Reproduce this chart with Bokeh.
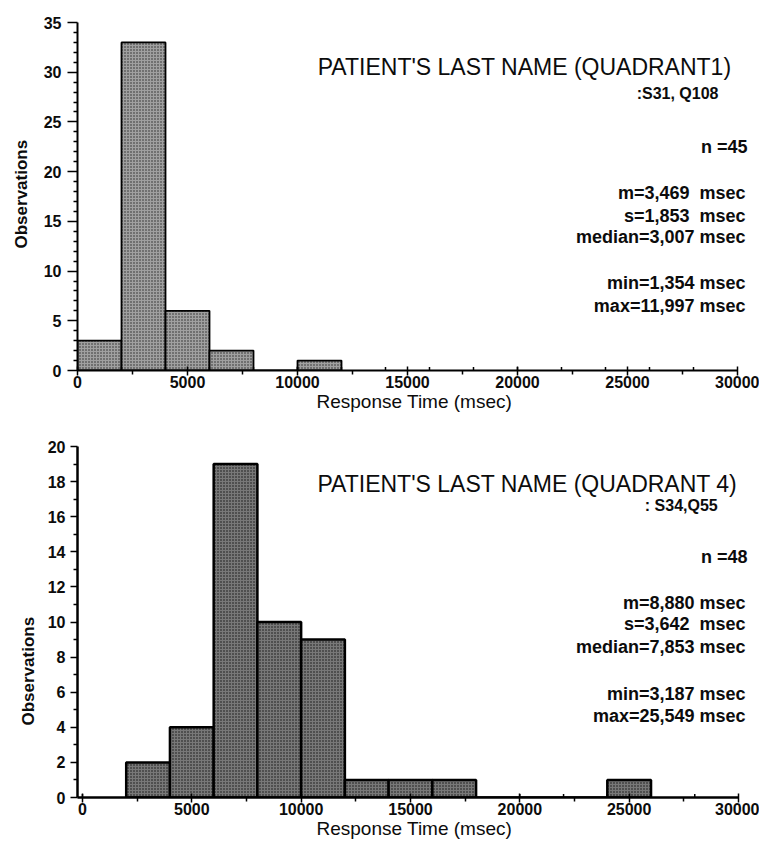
import math

from bokeh.embed import file_html
from bokeh.layouts import column
from bokeh.models import FixedTicker, Label, Title
from bokeh.plotting import figure
from bokeh.resources import INLINE

# Histogram bins (msec) and counts for each quadrant
bin_width = 2000
q1_bin_starts = [0, 2000, 4000, 6000, 8000, 10000]
q1_counts = [3, 33, 6, 2, 0, 1]
q4_bin_starts = [2000, 4000, 6000, 8000, 10000, 12000, 14000, 16000,
                 18000, 20000, 22000, 24000]
q4_counts = [2, 4, 19, 10, 9, 1, 1, 1, 0, 0, 0, 1]

# Axis ticks
x_ticks = [0, 5000, 10000, 15000, 20000, 25000, 30000]
x_minor_ticks = [2500, 7500, 12500, 17500, 22500, 27500]
bin_edges = [0, 2000, 4000, 6000, 8000, 10000, 12000, 14000, 16000,
             18000, 20000, 22000, 24000, 26000, 28000]
q1_y_ticks = [0, 5, 10, 15, 20, 25, 30, 35]
q4_y_ticks = [0, 2, 4, 6, 8, 10, 12, 14, 16, 18, 20]

# Panel texts
q1_title = "PATIENT'S LAST NAME (QUADRANT1)"
q1_ref = ":S31, Q108"
q1_stats = ["n =45", "m=3,469\u00a0 msec", "s=1,853\u00a0 msec",
            "median=3,007 msec", "min=1,354 msec", "max=11,997 msec"]
q4_title = "PATIENT'S LAST NAME (QUADRANT 4)"
q4_ref = ": S34,Q55"
q4_stats = ["n =48", "m=8,880 msec", "s=3,642\u00a0 msec",
            "median=7,853 msec", "min=3,187 msec", "max=25,549 msec"]

x_label = "Response Time (msec)"
y_label = "Observations"

FONT = "Liberation Sans"
INK = "#0c0c0c"


def make_panel(height, x_range, y_end, y_ticks, starts, counts,
               borders, fill, hatch, outline_w, axis_w, ytick_out,
               ytick_standoff, title, ref, stats, text_pos, ylab_offset,
               ylab_standoff, tick_len):
    left, right, top, bottom = borders
    p = figure(width=759, height=height, x_range=x_range,
               y_range=(0, y_end), output_backend="svg",
               toolbar_location=None, min_border_left=left,
               min_border_right=right, min_border_top=top,
               min_border_bottom=bottom)
    p.outline_line_color = None
    p.grid.visible = False

    rights = [s + bin_width for s in starts]
    p.quad(left=starts, right=rights, bottom=0, top=counts,
           fill_color=fill, hatch_pattern="dot", hatch_color=hatch,
           hatch_scale=3, hatch_weight=1.4,
           line_color="black", line_width=outline_w)

    # small marks above the axis at each bin edge
    p.segment(x0=bin_edges, x1=bin_edges, y0=[0] * len(bin_edges),
              y1=[tick_len] * len(bin_edges), line_color="black",
              line_width=1.5)

    xa = p.xaxis[0]
    xa.bounds = (x_range[0], x_ticks[-1])
    xa.ticker = FixedTicker(ticks=x_ticks, minor_ticks=x_minor_ticks)
    xa.axis_line_width = axis_w
    xa.axis_line_color = "black"
    xa.major_tick_in = 4
    xa.major_tick_out = 5
    xa.major_tick_line_width = 1.5
    xa.minor_tick_in = 0
    xa.minor_tick_out = 4
    xa.minor_tick_line_width = 1.5
    xa.major_label_standoff = 0
    xa.major_label_text_font = FONT
    xa.major_label_text_font_style = "bold"
    xa.major_label_text_font_size = "16px"
    xa.major_label_text_color = INK

    ya = p.yaxis[0]
    step = y_ticks[1] - y_ticks[0]
    ya.ticker = FixedTicker(
        ticks=y_ticks,
        minor_ticks=[v for v in range(0, y_end + 1) if v % step != 0])
    ya.axis_line_width = axis_w
    ya.axis_line_color = "black"
    ya.major_tick_in = 0
    ya.major_tick_out = ytick_out
    ya.major_tick_line_width = 1.5
    ya.minor_tick_in = 0
    ya.minor_tick_out = 4
    ya.minor_tick_line_width = 1.5
    ya.major_label_standoff = ytick_standoff
    ya.major_label_text_font = FONT
    ya.major_label_text_font_style = "bold"
    ya.major_label_text_font_size = "16px"
    ya.major_label_text_color = INK

    # axis titles sit in the side panels, next to the axes
    p.add_layout(Title(text=x_label, align="left", offset=239,
                       vertical_align="top", standoff=0,
                       text_font=FONT, text_font_style="normal",
                       text_font_size="19px", text_color=INK), "below")
    p.add_layout(Title(text=y_label, align="left", offset=ylab_offset,
                       vertical_align="top", standoff=ylab_standoff,
                       text_font=FONT, text_font_style="bold",
                       text_font_size="17px", text_color=INK), "left")

    (tx, ty), (rx, ry), (sx, sys_) = text_pos
    p.add_layout(Label(x=tx, y=ty, text=title, text_align="right",
                       text_baseline="middle", text_font=FONT,
                       text_font_size="23px", text_color=INK))
    p.add_layout(Label(x=rx, y=ry, text=ref, text_align="right",
                       text_baseline="middle", text_font=FONT,
                       text_font_style="bold", text_font_size="16px",
                       text_color=INK))
    for i, (s, yv) in enumerate(zip(stats, sys_)):
        p.add_layout(Label(x=sx + (90 if i == 0 else 0), y=yv, text=s,
                           text_align="right", text_baseline="middle",
                           text_font=FONT, text_font_style="bold",
                           text_font_size="18px", text_color=INK))
    return p


top = make_panel(
    height=415, x_range=(0, 30682), y_end=35, y_ticks=q1_y_ticks,
    starts=q1_bin_starts, counts=q1_counts, borders=(77, 7, 22, 45),
    fill="#a0a0a0", hatch="#262626", outline_w=1.8, axis_w=2,
    ytick_out=10, ytick_standoff=6,
    title=q1_title, ref=q1_ref, stats=q1_stats,
    text_pos=((29727, 30.57), (29136, 27.86),
              (30364, [22.43, 17.90, 15.49, 13.38, 8.85, 6.44])),
    ylab_offset=122, ylab_standoff=16, tick_len=0.35)

bottom = make_panel(
    height=429, x_range=(-227, 30640), y_end=20, y_ticks=q4_y_ticks,
    starts=q4_bin_starts, counts=q4_counts, borders=(72, 7, 31, 47),
    fill="#787878", hatch="#111111", outline_w=2.5, axis_w=2.5,
    ytick_out=7, ytick_standoff=5,
    title=q4_title, ref=q4_ref, stats=q4_stats,
    text_pos=((29959, 17.89), (29051, 16.64),
              (30323, [13.68, 11.11, 9.91, 8.55, 5.87, 4.62])),
    ylab_offset=72, ylab_standoff=10, tick_len=0.2)

layout = column(top, bottom, spacing=0)
open("out.html", "w").write(file_html(layout, INLINE))
